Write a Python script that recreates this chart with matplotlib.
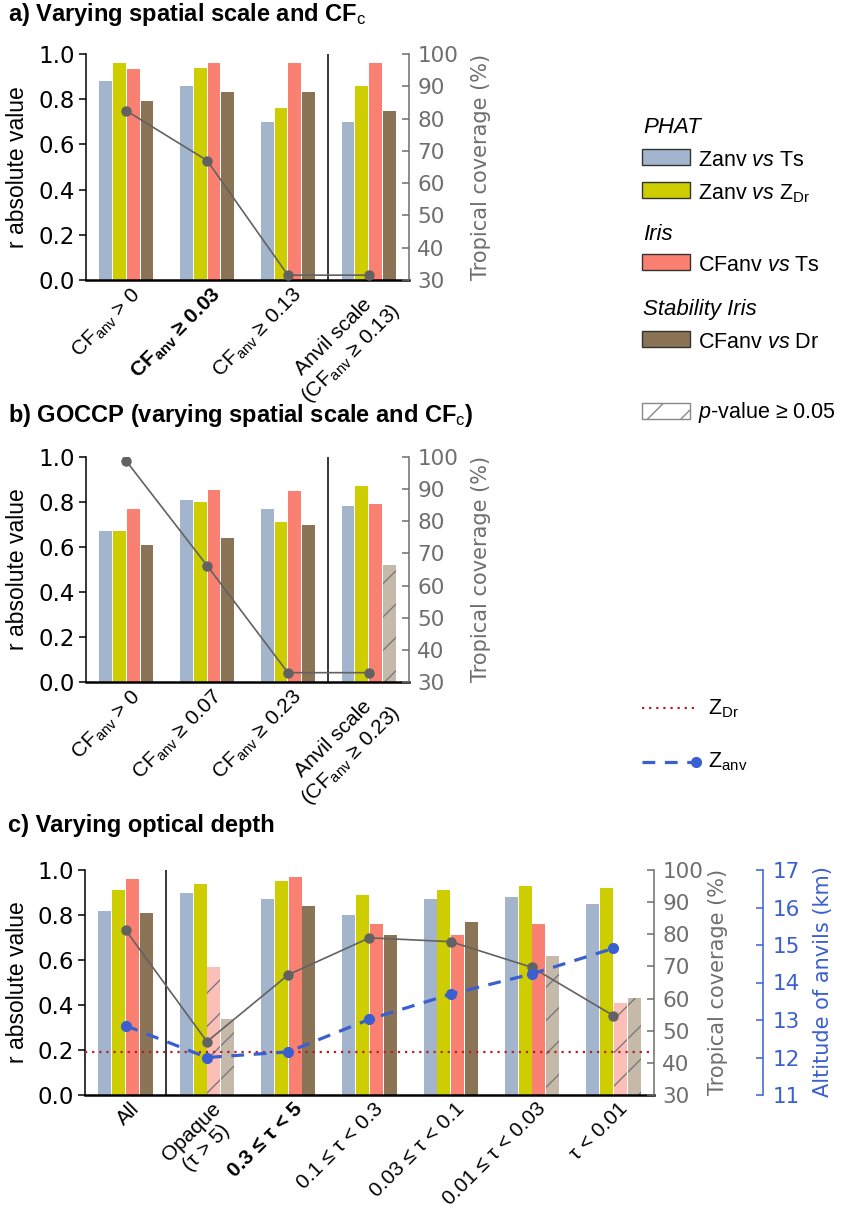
import matplotlib
matplotlib.use('Agg')
import matplotlib.pyplot as plt
import numpy as np
from matplotlib.patches import Rectangle
from matplotlib.lines import Line2D
import matplotlib.transforms as mtransforms
from matplotlib.ticker import FormatStrFormatter

plt.rcParams['font.family'] = ['Liberation Sans', 'DejaVu Sans']
plt.rcParams['mathtext.fontset'] = 'custom'
plt.rcParams['mathtext.rm'] = 'Liberation Sans'
plt.rcParams['mathtext.it'] = 'Liberation Sans:italic'
plt.rcParams['mathtext.bf'] = 'Liberation Sans:bold'
plt.rcParams['hatch.linewidth'] = 1.0

# ---------------- data ----------------
series_labels = ['Zanv $\\mathit{vs}$ Ts', 'Zanv $\\mathit{vs}$ Z$_{\\mathrm{Dr}}$',
                 'CFanv $\\mathit{vs}$ Ts', 'CFanv $\\mathit{vs}$ Dr']
group_headers = ['PHAT', 'Iris', 'Stability Iris']

# panel a
a_labels = ['CF$_{\\mathrm{anv}}$ > 0', 'CF$_{\\mathbf{anv}}$ ≥ 0.03',
            'CF$_{\\mathrm{anv}}$ ≥ 0.13', 'Anvil scale\n(CF$_{\\mathrm{anv}}$ ≥ 0.13)']
a_zanv_ts = [0.88, 0.86, 0.70, 0.70]
a_zanv_zdr = [0.96, 0.94, 0.76, 0.86]
a_cfanv_ts = [0.935, 0.96, 0.96, 0.96]
a_cfanv_dr = [0.79, 0.83, 0.83, 0.75]
a_notsig_cfanv_ts = [False, False, False, False]
a_notsig_cfanv_dr = [False, False, False, False]
a_coverage = [82.4, 67.0, 31.5, 31.5]

# panel b
b_labels = ['CF$_{\\mathrm{anv}}$ > 0', 'CF$_{\\mathrm{anv}}$ ≥ 0.07',
            'CF$_{\\mathrm{anv}}$ ≥ 0.23', 'Anvil scale\n(CF$_{\\mathrm{anv}}$ ≥ 0.23)']
b_zanv_ts = [0.67, 0.81, 0.77, 0.78]
b_zanv_zdr = [0.67, 0.80, 0.71, 0.87]
b_cfanv_ts = [0.77, 0.855, 0.85, 0.79]
b_cfanv_dr = [0.61, 0.64, 0.70, 0.52]
b_notsig_cfanv_ts = [False, False, False, False]
b_notsig_cfanv_dr = [False, False, False, True]
b_coverage = [98.7, 66.2, 32.9, 32.9]

# panel c
c_labels = ['All', 'Opaque\n(τ > 5)', '0.3 ≤ τ < 5', '0.1 ≤ τ < 0.3',
            '0.03 ≤ τ < 0.1', '0.01 ≤ τ < 0.03', 'τ < 0.01']
c_zanv_ts = [0.82, 0.90, 0.87, 0.80, 0.87, 0.88, 0.85]
c_zanv_zdr = [0.91, 0.94, 0.95, 0.89, 0.91, 0.93, 0.92]
c_cfanv_ts = [0.96, 0.57, 0.97, 0.76, 0.71, 0.76, 0.41]
c_cfanv_dr = [0.81, 0.34, 0.84, 0.71, 0.77, 0.62, 0.43]
c_notsig_cfanv_ts = [False, True, False, False, False, False, True]
c_notsig_cfanv_dr = [False, True, False, False, False, True, True]
c_coverage = [81.3, 46.6, 67.4, 78.9, 77.7, 69.7, 54.7]
c_zanv_alt = [12.85, 12.0, 12.15, 13.02, 13.69, 14.23, 14.91]
zdr_alt = 12.15

# ---------------- style ----------------
COL = ['#A2B5CD', '#CDCD00', '#FA8072', '#8B7355']
COL_LIGHT = ['#D0DAE6', '#E6E680', '#FCBFB8', '#C5B9AA']
GRAY = '#6e6e6e'
LINEGRAY = '#626262'
BLUE = '#3a5fd0'
ZDRRED = '#b22222'
HATCHC = '#7a7a7a'

W, H = 848, 1210
fig = plt.figure(figsize=(W / 100, H / 100), dpi=100)


def fx(x):
    return x / W


def fy(y):
    return 1 - y / H


def add_ax(l, t, r, b):
    return fig.add_axes([fx(l), fy(b), (r - l) / W, (b - t) / H])


def draw_panel(ax, labels, s1, s2, s3, s4, ns3, ns4, coverage, sep, bold_idx, lbl_dx=4):
    n = len(labels)
    x = np.arange(n)
    step = 0.17
    offs = [-1.5, -0.5, 0.5, 1.5]
    allv = [s1, s2, s3, s4]
    flags = [[False] * n, [False] * n, ns3, ns4]
    for k in range(4):
        for i in range(n):
            if flags[k][i]:
                ax.bar(x[i] + offs[k] * step, allv[k][i], width=step * 0.94,
                       color=COL_LIGHT[k], edgecolor=HATCHC, linewidth=0,
                       hatch='/', zorder=2)
            else:
                ax.bar(x[i] + offs[k] * step, allv[k][i], width=step * 0.94,
                       color=COL[k], linewidth=0, zorder=2)
    ax.axvline(sep, color='black', lw=1.1, zorder=3)
    ax.set_xlim(-0.5, n - 0.5)
    ax.set_ylim(0, 1.0)
    ax.set_yticks(np.arange(0, 1.01, 0.2))
    ax.yaxis.set_major_formatter(FormatStrFormatter('%.1f'))
    ax.tick_params(axis='y', direction='out', length=5, width=1.1, labelsize=16.5, pad=3)
    for lb in ax.get_yticklabels():
        lb.set_fontfamily('DejaVu Sans')
    ax.set_xticks(x)
    ax.set_xticklabels(labels, rotation=45, ha='right', va='top',
                       rotation_mode='anchor', fontsize=15, multialignment='center')
    ax.tick_params(axis='x', length=0, pad=3)
    for i, lb in enumerate(ax.get_xticklabels()):
        lb.set_transform(lb.get_transform() + mtransforms.Affine2D().translate(lbl_dx, 0))
        if i == bold_idx:
            lb.set_fontweight('bold')
    for s in ['top', 'right']:
        ax.spines[s].set_visible(False)
    ax.spines['bottom'].set_linewidth(1.8)
    ax.spines['left'].set_linewidth(1.1)

    ax2 = ax.twinx()
    ax2.plot(x, coverage, color=LINEGRAY, lw=1.2, marker='o', ms=6.5, zorder=5)
    ax2.set_ylim(30, 100)
    ax2.set_yticks(np.arange(30, 101, 10))
    ax2.tick_params(axis='y', colors=GRAY, direction='in', length=5, width=1.1,
                    labelsize=15.5, pad=6)
    for lb in ax2.get_yticklabels():
        lb.set_fontfamily('DejaVu Sans')
    for s in ['top', 'left', 'bottom']:
        ax2.spines[s].set_visible(False)
    ax2.spines['right'].set_color(GRAY)
    ax2.spines['right'].set_linewidth(1.1)
    return ax2


# ---------------- panel a ----------------
axa = add_ax(86, 54, 409, 280)
draw_panel(axa, a_labels, a_zanv_ts, a_zanv_zdr, a_cfanv_ts, a_cfanv_dr,
           a_notsig_cfanv_ts, a_notsig_cfanv_dr, a_coverage, 2.5, 1)
fig.text(fx(8), fy(21), 'a) Varying spatial scale and CF$_{\\mathrm{c}}$',
         fontsize=17, fontweight='bold', va='baseline', ha='left')
fig.text(fx(18), fy(167), 'r absolute value', rotation=90, ha='center', va='center', fontsize=16.5)
fig.text(fx(481), fy(167), 'Tropical coverage (%)', rotation=90, ha='center', va='center',
         fontsize=15, color=GRAY, family='DejaVu Sans')

# ---------------- panel b ----------------
axb = add_ax(86, 457, 409, 682)
draw_panel(axb, b_labels, b_zanv_ts, b_zanv_zdr, b_cfanv_ts, b_cfanv_dr,
           b_notsig_cfanv_ts, b_notsig_cfanv_dr, b_coverage, 2.5, -1)
fig.text(fx(8), fy(422), 'b) GOCCP (varying spatial scale and CF$_{\\mathrm{c}}$)',
         fontsize=17, fontweight='bold', va='baseline', ha='left')
fig.text(fx(18), fy(569), 'r absolute value', rotation=90, ha='center', va='center', fontsize=16.5)
fig.text(fx(481), fy(569), 'Tropical coverage (%)', rotation=90, ha='center', va='center',
         fontsize=15, color=GRAY, family='DejaVu Sans')

# ---------------- panel c ----------------
axc = add_ax(85, 870, 654, 1095)
axc2 = draw_panel(axc, c_labels, c_zanv_ts, c_zanv_zdr, c_cfanv_ts, c_cfanv_dr,
                  c_notsig_cfanv_ts, c_notsig_cfanv_dr, c_coverage, 0.5, 2)
axc3 = axc.twinx()
axc3.spines['right'].set_position(('outward', 109 * 0.72))
for s in ['top', 'left', 'bottom']:
    axc3.spines[s].set_visible(False)
axc3.spines['right'].set_color(BLUE)
axc3.spines['right'].set_linewidth(1.1)
axc3.set_ylim(11, 17)
axc3.set_yticks(np.arange(11, 17.1, 1))
axc3.tick_params(axis='y', colors=BLUE, direction='in', length=5, width=1.1,
                 labelsize=15.5, pad=7)
for lb in axc3.get_yticklabels():
    lb.set_fontfamily('DejaVu Sans')
xc = np.arange(len(c_labels))
axc3.axhline(zdr_alt, color=ZDRRED, lw=1.6, ls=(0, (1, 2.2)), zorder=4)
axc3.plot(xc, c_zanv_alt, color=BLUE, lw=2.3, ls=(0, (4, 3)), marker='o', ms=7, zorder=6)
fig.text(fx(8), fy(832), 'c) Varying optical depth',
         fontsize=17, fontweight='bold', va='baseline', ha='left')
fig.text(fx(18), fy(982), 'r absolute value', rotation=90, ha='center', va='center', fontsize=16.5)
fig.text(fx(718), fy(982), 'Tropical coverage (%)', rotation=90, ha='center', va='center',
         fontsize=15, color=GRAY, family='DejaVu Sans')
fig.text(fx(823), fy(982), 'Altitude of anvils (km)', rotation=90, ha='center', va='center',
         fontsize=15, color=BLUE, family='DejaVu Sans')

# ---------------- legend ----------------
LEGFS = 15.5
header_pos = [(0, 133), (2, 240), (3, 315)]
for (hdr, (k, yb)) in zip(group_headers, header_pos):
    fig.text(fx(643), fy(yb), hdr, fontsize=16, style='italic', va='baseline', ha='left')
patch_centers = [157, 190, 262, 339]
for k, yc in enumerate(patch_centers):
    fig.add_artist(Rectangle((fx(642), fy(yc + 8)), 48 / W, 16 / H, facecolor=COL[k],
                             edgecolor='#333333', lw=1.0, transform=fig.transFigure))
    fig.text(fx(698), fy(yc + 9), series_labels[k], fontsize=LEGFS, va='baseline', ha='left')
fig.add_artist(Rectangle((fx(642), fy(419)), 48 / W, 16 / H, facecolor='white',
                         edgecolor='#888888', lw=1.0, hatch='/', transform=fig.transFigure))
fig.text(fx(698), fy(418), '$\\mathit{p}$-value ≥ 0.05', fontsize=LEGFS, va='baseline', ha='left')

fig.add_artist(Line2D([fx(642), fx(697)], [fy(708), fy(708)], color=ZDRRED, lw=1.6,
                      ls=(0, (1, 2.2)), transform=fig.transFigure))
fig.text(fx(708), fy(714), 'Z$_{\\mathrm{Dr}}$', fontsize=LEGFS, va='baseline', ha='left')
fig.add_artist(Line2D([fx(642), fx(696)], [fy(762), fy(762)], color=BLUE, lw=2.3,
                      ls=(0, (4, 3)), marker='o', ms=7, markevery=[1],
                      transform=fig.transFigure))
fig.text(fx(708), fy(767), 'Z$_{\\mathrm{anv}}$', fontsize=LEGFS, va='baseline', ha='left')

fig.savefig('out.png', dpi=100)
